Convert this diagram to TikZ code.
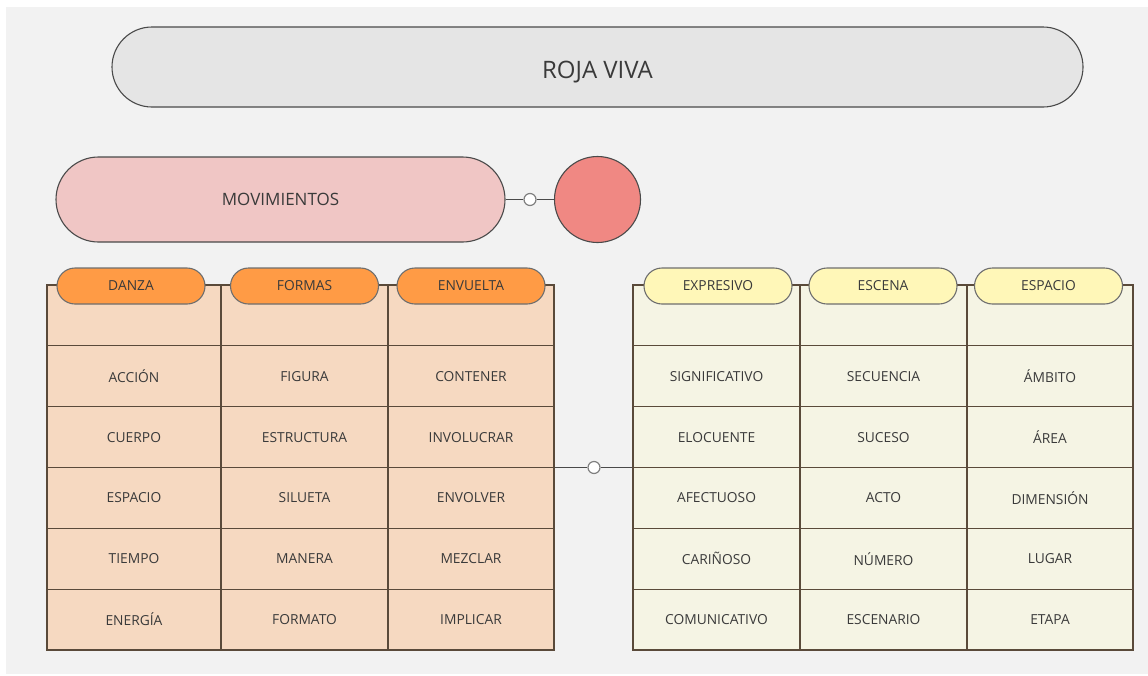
\documentclass[tikz,border=0pt]{standalone}
\usepackage{fontspec}
\setmainfont{Open Sans}
\usepackage{xcolor}
\usepackage{tikz}
\usetikzlibrary{shapes,positioning,calc}

\definecolor{bggray}{HTML}{F2F2F2}
\definecolor{titlefill}{HTML}{E5E5E5}
\definecolor{pinkfill}{HTML}{F0C6C5}
\definecolor{redfill}{HTML}{F08883}
\definecolor{orangefill}{HTML}{FF9B45}
\definecolor{peachfill}{HTML}{F6D9C1}
\definecolor{yellowfill}{HTML}{FFF7B8}
\definecolor{creamfill}{HTML}{F5F4E4}
\definecolor{edgegray}{HTML}{4A4A4A}
\definecolor{tabline}{HTML}{5A4A3A}
\definecolor{txt}{HTML}{3A3A3A}

\tikzset{
  pill/.style={rounded rectangle, draw=edgegray, line width=1.1pt, text=txt, inner sep=0pt},
  cellbox/.style={rectangle, draw=tabline, line width=1.2pt, text=txt, inner sep=0pt,
    font=\fontsize{13.8}{16}\selectfont},
  tagpill/.style={pill, draw=edgegray!80, minimum width=148pt, minimum height=36pt,
    font=\fontsize{13.8}{16}\selectfont},
  dot/.style={circle, draw=gray, fill=white, line width=1.2pt, minimum size=12pt, inner sep=0pt},
  link/.style={draw=edgegray, line width=1.2pt}
}

\begin{document}
\begin{tikzpicture}[x=1pt,y=-1pt]
% canvas
\fill[white] (0,0) rectangle (1148,675);
\fill[bggray] (6,7) rectangle (1148,674);
\useasboundingbox (0,0) rectangle (1148,675);

% title
\node[pill, fill=titlefill, minimum width=971pt, minimum height=80pt,
  text height=22pt, text depth=0pt,
  font=\fontsize{24}{28}\selectfont] (title) at (597.5,67) {ROJA VIVA};

% main topic
\node[pill, fill=pinkfill, minimum width=449pt, minimum height=85pt,
  font=\fontsize{17}{20}\selectfont] (mov) at (280.5,199.5) {MOVIMIENTOS};
\node[circle, draw=edgegray, line width=1.1pt, fill=redfill, minimum size=86pt] (red) at (597.5,199.5) {};
\node[dot] (movdot) at (530,199.5) {};
\draw[link] (mov.east) -- (movdot) -- (red.west);

% left table
\node[cellbox, fill=peachfill, minimum width=507pt, minimum height=365pt] (ltab) at (300.5,467.5) {};
\foreach \xa/\xb/\c [count=\j from 0] in {47/221/{ACCIÓN,CUERPO,ESPACIO,TIEMPO,ENERGÍA},
                                  221/388/{FIGURA,ESTRUCTURA,SILUETA,MANERA,FORMATO},
                                  388/554/{CONTENER,INVOLUCRAR,ENVOLVER,MEZCLAR,IMPLICAR}}{
  \node[cellbox, minimum width={\xb-\xa}, minimum height=60.83pt] (lh\j) at ({(\xa+\xb)/2},315.4) {};
  \foreach \t [count=\i] in \c
    \node[cellbox, minimum width={\xb-\xa}, minimum height=60.83pt] (l\j-\i) at ({(\xa+\xb)/2},{285+60.83*(\i+0.5)}) {\t};
}

% right table
\node[cellbox, fill=creamfill, minimum width=500pt, minimum height=365pt] (rtab) at (883,467.5) {};
\foreach \xa/\xb/\c [count=\j from 0] in {633/800/{SIGNIFICATIVO,ELOCUENTE,AFECTUOSO,CARIÑOSO,COMUNICATIVO},
                                  800/967/{SECUENCIA,SUCESO,ACTO,NÚMERO,ESCENARIO},
                                  967/1133/{ÁMBITO,ÁREA,DIMENSIÓN,LUGAR,ETAPA}}{
  \node[cellbox, minimum width={\xb-\xa}, minimum height=60.83pt] (rh\j) at ({(\xa+\xb)/2},315.4) {};
  \foreach \t [count=\i] in \c
    \node[cellbox, minimum width={\xb-\xa}, minimum height=60.83pt] (r\j-\i) at ({(\xa+\xb)/2},{285+60.83*(\i+0.5)}) {\t};
}

% column tags
\node[tagpill, fill=orangefill] (danza) at (131,286) {DANZA};
\node[tagpill, fill=orangefill] (formas) at (304.5,286) {FORMAS};
\node[tagpill, fill=orangefill] (envuelta) at (471,286) {ENVUELTA};
\node[tagpill, fill=yellowfill] (expresivo) at (718,286) {EXPRESIVO};
\node[tagpill, fill=yellowfill] (escena) at (883,286) {ESCENA};
\node[tagpill, fill=yellowfill] (espacio) at (1048.5,286) {ESPACIO};

% link between tables
\node[dot] (tabdot) at (594,467.5) {};
\draw[link] (ltab.east) -- (tabdot) -- (rtab.west);
\end{tikzpicture}
\end{document}
